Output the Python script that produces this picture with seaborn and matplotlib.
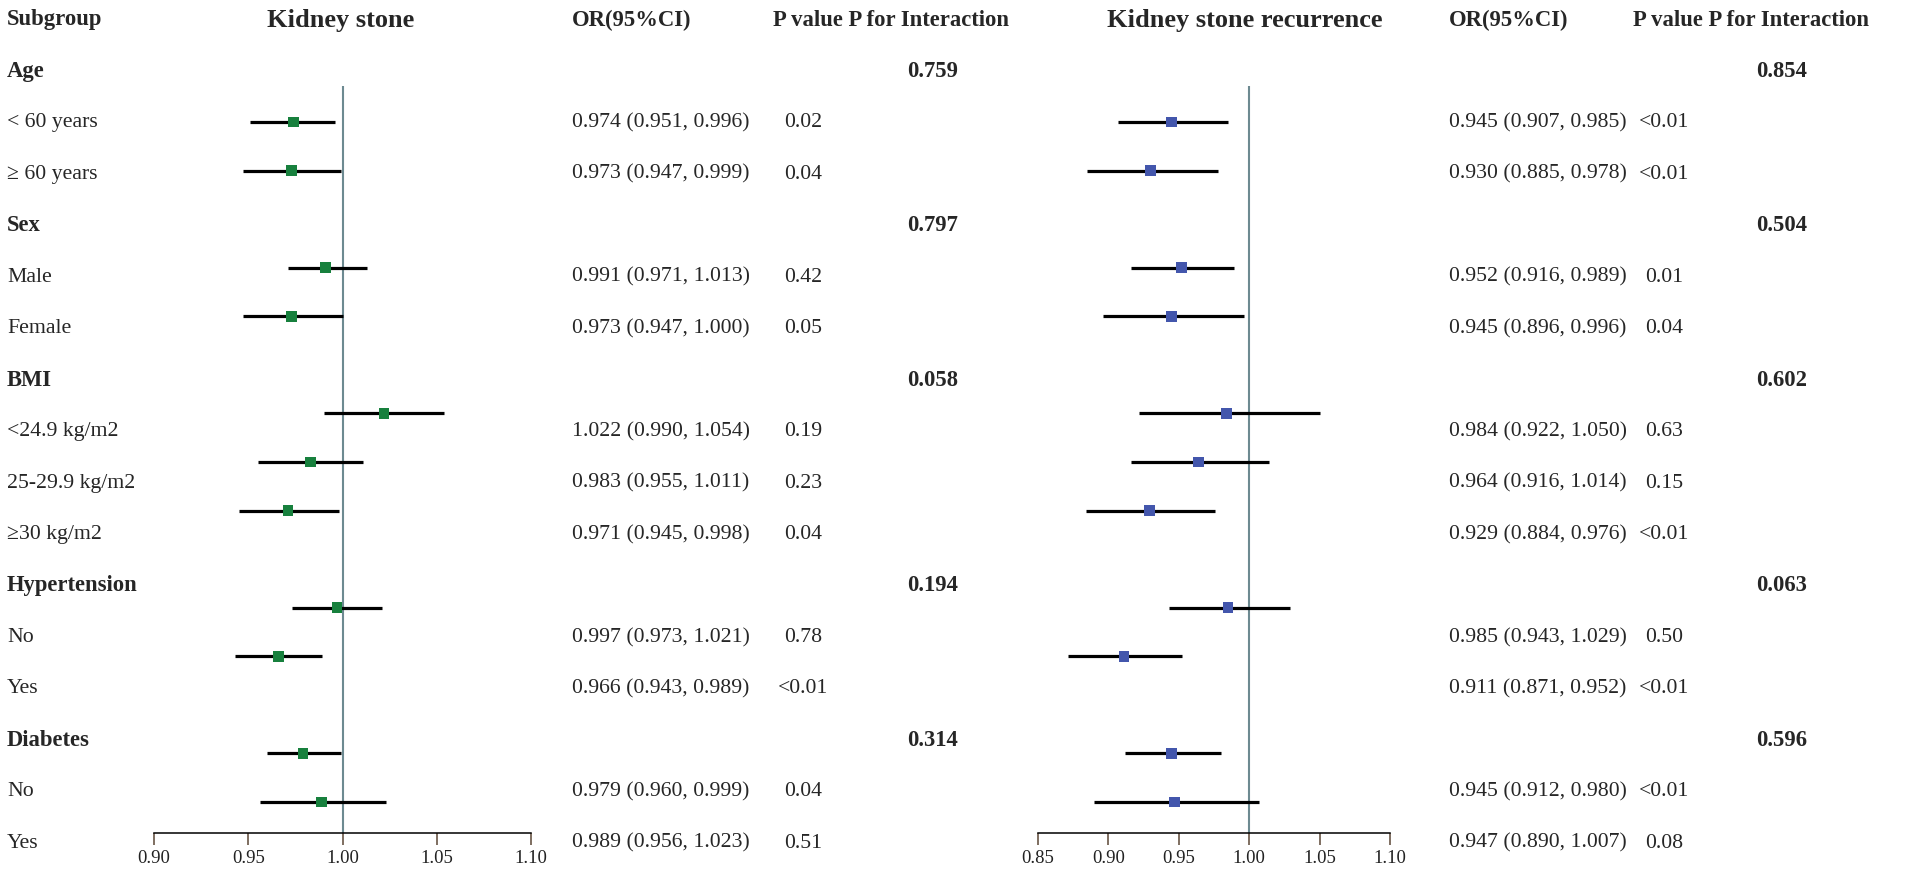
import matplotlib
matplotlib.use("Agg")
import matplotlib.pyplot as plt
import pandas as pd
import seaborn as sns

# Rows of the table (row 0 is the column header)
labels = ["Age", "< 60 years", "\u2265 60 years", "Sex", "Male", "Female", "BMI",
          "<24.9 kg/m2", "25-29.9 kg/m2", "\u226530 kg/m2", "Hypertension", "No", "Yes",
          "Diabetes", "No", "Yes"]
is_header = [True, False, False, True, False, False, True,
             False, False, False, True, False, False, True, False, False]

# Kidney stone
ks_or = [0.974, 0.973, 0.991, 0.973, 1.022, 0.983, 0.971, 0.997, 0.966, 0.979, 0.989]
ks_lo = [0.951, 0.947, 0.971, 0.947, 0.990, 0.955, 0.945, 0.973, 0.943, 0.960, 0.956]
ks_hi = [0.996, 0.999, 1.013, 1.000, 1.054, 1.011, 0.998, 1.021, 0.989, 0.999, 1.023]
ks_p = ["0.02", "0.04", "0.42", "0.05", "0.19", "0.23", "0.04", "0.78", "<0.01", "0.04", "0.51"]
ks_pint = ["0.759", "0.797", "0.058", "0.194", "0.314"]

# Kidney stone recurrence
rec_or = [0.945, 0.930, 0.952, 0.945, 0.984, 0.964, 0.929, 0.985, 0.911, 0.945, 0.947]
rec_lo = [0.907, 0.885, 0.916, 0.896, 0.922, 0.916, 0.884, 0.943, 0.871, 0.912, 0.890]
rec_hi = [0.985, 0.978, 0.989, 0.996, 1.050, 1.014, 0.976, 1.029, 0.952, 0.980, 1.007]
rec_p = ["<0.01", "<0.01", "0.01", "0.04", "0.63", "0.15", "<0.01", "0.50", "<0.01", "<0.01", "0.08"]
rec_pint = ["0.854", "0.504", "0.602", "0.063", "0.596"]

ks_ticks = [0.90, 0.95, 1.00, 1.05, 1.10]
rec_ticks = [0.85, 0.90, 0.95, 1.00, 1.05, 1.10]

sns.set_theme(style="white")
plt.rcParams["font.family"] = ["Liberation Serif", "DejaVu Serif"]
plt.rcParams["mathtext.fontset"] = "stix"

W, H = 1907, 875
fig = plt.figure(figsize=(W / 100, H / 100), dpi=100)

sub_rows = [i + 1 for i, h in enumerate(is_header) if not h]
head_rows = [i + 1 for i, h in enumerate(is_header) if h]

# text layer, x in pixels, y in table rows
tax = fig.add_axes([0, 0, 1, 1])
tax.set_xlim(0, W)
tax.set_ylim((H - 20) / 51.45, -20 / 51.45)
tax.axis("off")

fs, fsb = 15.7, 16.3
tax.text(7, 0, "Subgroup", fontsize=fsb, fontweight="bold", va="center")
tax.text(341, 0, "Kidney stone", fontsize=19, fontweight="bold", va="center", ha="center")
tax.text(572, 0, "OR(95%CI)", fontsize=fsb, fontweight="bold", va="center")
tax.text(773, 0, "P value P for Interaction", fontsize=fsb, fontweight="bold", va="center")
tax.text(1245, 0, "Kidney stone recurrence", fontsize=19, fontweight="bold", va="center", ha="center")
tax.text(1449, 0, "OR(95%CI)", fontsize=fsb, fontweight="bold", va="center")
tax.text(1633, 0, "P value P for Interaction", fontsize=fsb, fontweight="bold", va="center")

for i, (lab, h) in enumerate(zip(labels, is_header)):
    tax.text(7, i + 1, lab, fontsize=fsb if h else fs,
             fontweight="bold" if h else "normal", va="center")

for k, r in enumerate(sub_rows):
    tax.text(572, r, f"{ks_or[k]:.3f} ({ks_lo[k]:.3f}, {ks_hi[k]:.3f})", fontsize=fs, va="center")
    tax.text(803, r, ks_p[k], fontsize=fs, va="center", ha="center")
    tax.text(1449, r, f"{rec_or[k]:.3f} ({rec_lo[k]:.3f}, {rec_hi[k]:.3f})", fontsize=fs, va="center")
    tax.text(1664, r, rec_p[k], fontsize=fs, va="center", ha="center")

for k, r in enumerate(head_rows):
    tax.text(933, r, ks_pint[k], fontsize=fsb, fontweight="bold", va="center", ha="center")
    tax.text(1782, r, rec_pint[k], fontsize=fsb, fontweight="bold", va="center", ha="center")

# forest panels: rows are spaced a little tighter than the table
y_top, y_bot, step = 24.86, 833, 48.57
row_max = (y_bot - y_top) / step


def forest(x0, x1, or_, lo, hi, color, ticks):
    ax = fig.add_axes([x0 / W, 1 - y_bot / H, (x1 - x0) / W, (y_bot - y_top) / H])
    ax.patch.set_alpha(0)
    df = pd.DataFrame({"row": sub_rows, "or": or_, "lo": lo, "hi": hi})
    ax.vlines(1.0, (86 - y_top) / step, row_max, color="#6d8a91", lw=1.5, zorder=1)
    ax.hlines(df["row"], df["lo"], df["hi"], color="black", lw=2.3, zorder=2)
    sns.scatterplot(data=df, x="or", y="row", marker="s", s=58, color=color,
                    edgecolor="none", ax=ax, zorder=3)
    ax.set_xlim(ticks[0], ticks[-1])
    ax.set_ylim(row_max, 0)
    ax.set_xticks(ticks)
    ax.set_xticklabels([f"{t:.2f}" for t in ticks])
    ax.set_yticks([])
    ax.set_xlabel("")
    ax.set_ylabel("")
    for s in ["top", "right", "left"]:
        ax.spines[s].set_visible(False)
    ax.spines["bottom"].set_color("black")
    ax.spines["bottom"].set_linewidth(1.1)
    ax.tick_params(axis="x", bottom=True, direction="out", length=8.5, width=1.1,
                   color="#5b4636", labelsize=13.5, pad=4, labelcolor="#222222")
    return ax


forest(154, 531, ks_or, ks_lo, ks_hi, "#17803d", ks_ticks)
forest(1038, 1390, rec_or, rec_lo, rec_hi, "#4356ac", rec_ticks)

fig.savefig("out.png", dpi=100)
